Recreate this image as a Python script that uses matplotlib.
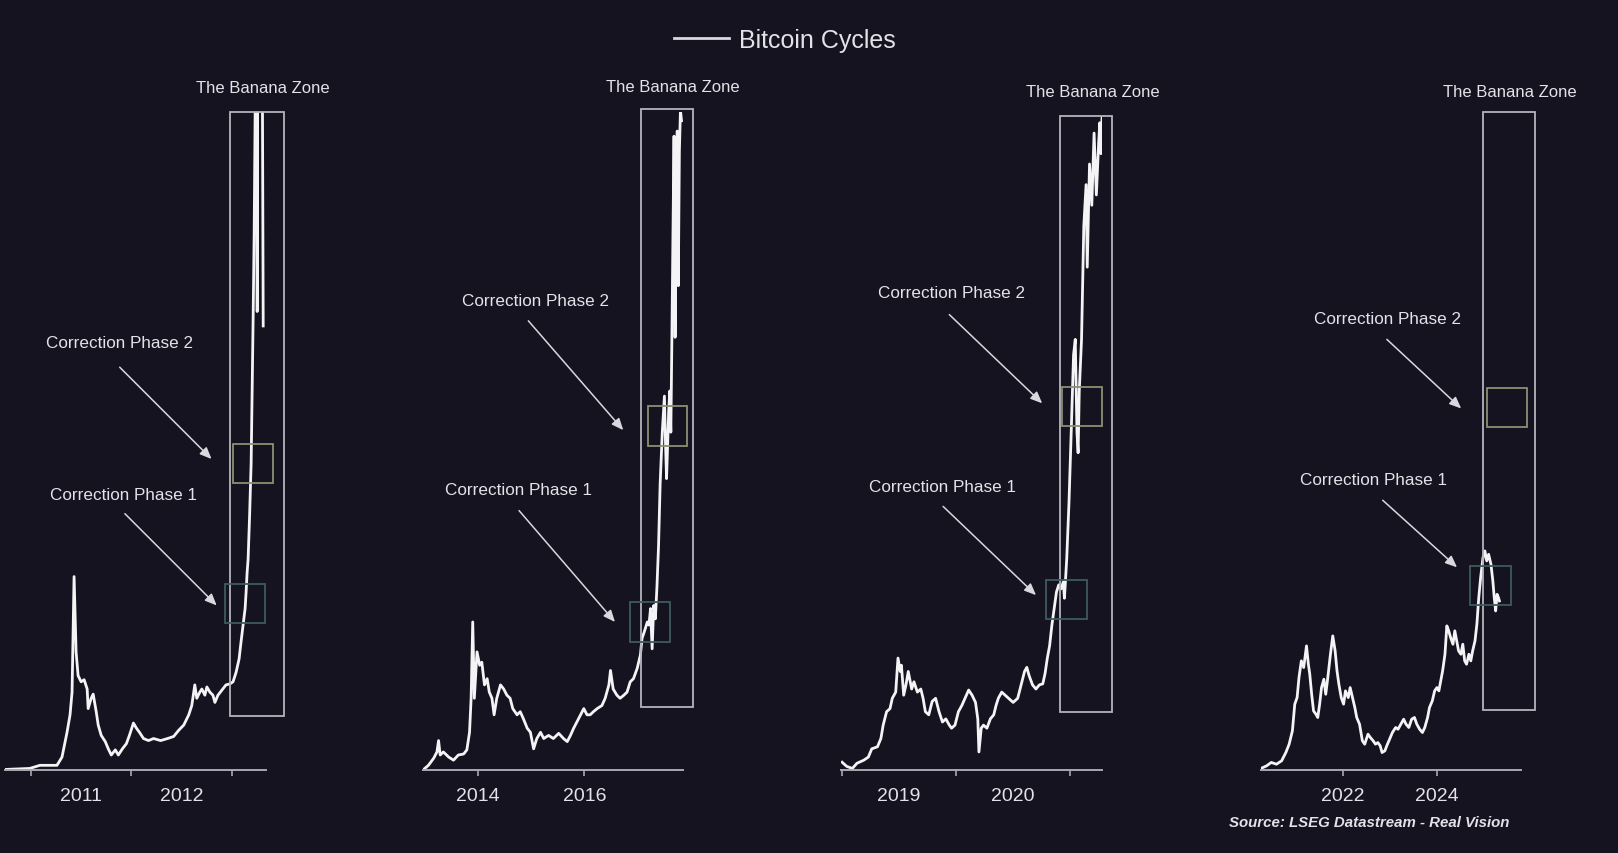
import matplotlib
matplotlib.use("Agg")
import matplotlib.pyplot as plt
from matplotlib.patches import Rectangle, FancyArrowPatch
from matplotlib.ticker import FixedLocator, NullFormatter, FixedFormatter

plt.rcParams["font.family"] = ["Liberation Sans", "DejaVu Sans"]

# ---- data: decimal year vs. price index (chart height units) ----
p1_years = [2010.745, 2010.99, 2011.09, 2011.26, 2011.31, 2011.36, 2011.39, 2011.41, 2011.43,
            2011.45, 2011.47, 2011.50, 2011.53, 2011.56, 2011.57, 2011.60, 2011.62, 2011.65,
            2011.67, 2011.70, 2011.74, 2011.77, 2011.80, 2011.84, 2011.87, 2011.91, 2011.95,
            2011.98, 2012.02, 2012.05, 2012.08, 2012.12, 2012.17, 2012.22, 2012.29, 2012.36,
            2012.42, 2012.47, 2012.52, 2012.57, 2012.60, 2012.63, 2012.65, 2012.68, 2012.70,
            2012.73, 2012.75, 2012.78, 2012.81, 2012.83, 2012.86, 2012.90, 2012.94, 2012.98,
            2013.01, 2013.04, 2013.07, 2013.09, 2013.11, 2013.13, 2013.14, 2013.15, 2013.16,
            2013.175, 2013.19, 2013.20, 2013.21, 2013.22, 2013.23, 2013.235, 2013.245, 2013.25,
            2013.255, 2013.30, 2013.31]
p1_index = [1, 2, 5, 5, 13, 37, 54, 76, 188,
            115, 92, 86, 88, 79, 60, 70, 74, 57,
            44, 34, 28, 21, 15, 20, 15, 21, 26,
            34, 46, 41, 37, 31, 29, 31, 29, 31,
            33, 39, 44, 54, 63, 83, 70, 76, 79,
            73, 81, 76, 73, 66, 73, 78, 83, 84,
            86, 95, 108, 125, 141, 157, 173, 192, 205,
            248, 298, 368, 440, 520, 640, 720, 720, 445,
            720, 720, 431]

p2_years = [2012.99, 2013.08, 2013.18, 2013.24, 2013.27, 2013.30, 2013.36, 2013.46, 2013.55,
            2013.64, 2013.74, 2013.80, 2013.85, 2013.88, 2013.91, 2013.94, 2013.99, 2014.04,
            2014.08, 2014.13, 2014.18, 2014.22, 2014.27, 2014.31, 2014.36, 2014.43, 2014.49,
            2014.55, 2014.61, 2014.66, 2014.74, 2014.80, 2014.86, 2014.93, 2014.99, 2015.05,
            2015.11, 2015.18, 2015.24, 2015.33, 2015.42, 2015.52, 2015.61, 2015.68, 2015.74,
            2015.80, 2015.86, 2015.93, 2015.99, 2016.05, 2016.11, 2016.17, 2016.24, 2016.33,
            2016.39, 2016.46, 2016.49, 2016.54, 2016.61, 2016.67, 2016.74, 2016.80, 2016.86,
            2016.92, 2016.99, 2017.05, 2017.08, 2017.12, 2017.18, 2017.21, 2017.24, 2017.27,
            2017.30, 2017.33, 2017.36, 2017.39, 2017.42, 2017.46, 2017.50, 2017.52, 2017.54,
            2017.58, 2017.60, 2017.62, 2017.64, 2017.66, 2017.68, 2017.70, 2017.72, 2017.74,
            2017.76, 2017.78, 2017.80, 2017.82]
p2_index = [1, 5, 12, 18, 29, 15, 18, 13, 10,
            15, 16, 20, 37, 70, 144, 70, 115, 102,
            105, 83, 89, 76, 70, 54, 70, 83, 79,
            73, 70, 60, 54, 57, 50, 41, 37, 21,
            31, 37, 31, 34, 31, 36, 31, 28, 34,
            41, 47, 54, 60, 54, 54, 57, 60, 63,
            70, 83, 97, 79, 73, 70, 73, 76, 86,
            89, 99, 112, 128, 134, 144, 141, 157, 118,
            160, 147, 178, 218, 278, 328, 363, 318, 283,
            348, 368, 328, 420, 520, 615, 420, 560, 620,
            470, 600, 640, 630]

p3_years = [2019.00, 2019.04, 2019.09, 2019.13, 2019.19, 2019.23, 2019.26, 2019.31, 2019.34,
            2019.36, 2019.39, 2019.42, 2019.44, 2019.47, 2019.49, 2019.51, 2019.52, 2019.54,
            2019.56, 2019.58, 2019.61, 2019.63, 2019.66, 2019.69, 2019.71, 2019.73, 2019.76,
            2019.79, 2019.82, 2019.85, 2019.88, 2019.91, 2019.94, 2019.96, 2019.99, 2020.02,
            2020.05, 2020.09, 2020.11, 2020.14, 2020.17, 2020.19, 2020.20, 2020.22, 2020.24,
            2020.27, 2020.30, 2020.33, 2020.35, 2020.37, 2020.40, 2020.43, 2020.46, 2020.50,
            2020.54, 2020.57, 2020.60, 2020.62, 2020.64, 2020.67, 2020.70, 2020.73, 2020.76,
            2020.78, 2020.80, 2020.82, 2020.84, 2020.86, 2020.88, 2020.90, 2020.92, 2020.94,
            2020.95, 2020.96, 2020.97, 2020.99, 2021.01, 2021.03, 2021.045, 2021.06, 2021.07,
            2021.08, 2021.10, 2021.12, 2021.14, 2021.15, 2021.17, 2021.19, 2021.21, 2021.23,
            2021.25, 2021.26, 2021.27, 2021.28]
p3_index = [8, 4, 2, 7, 10, 13, 21, 23, 31,
            44, 57, 60, 70, 76, 109, 96, 102, 73,
            83, 96, 79, 86, 76, 79, 70, 57, 54,
            67, 70, 57, 47, 50, 44, 41, 44, 57,
            63, 73, 78, 73, 66, 50, 18, 41, 44,
            41, 50, 54, 63, 70, 76, 73, 70, 66,
            70, 83, 96, 100, 92, 83, 79, 83, 84,
            94, 109, 121, 141, 157, 173, 180, 176, 183,
            167, 186, 205, 260, 330, 403, 418, 328, 308,
            368, 418, 528, 568, 488, 588, 548, 618, 558,
            608, 628, 598, 633]

p4_years = [2020.27, 2020.38, 2020.48, 2020.59, 2020.70, 2020.79, 2020.86, 2020.93, 2020.98,
            2021.03, 2021.07, 2021.12, 2021.17, 2021.23, 2021.27, 2021.30, 2021.34, 2021.38,
            2021.43, 2021.47, 2021.51, 2021.55, 2021.60, 2021.64, 2021.68, 2021.74, 2021.79,
            2021.84, 2021.88, 2021.92, 2021.97, 2022.02, 2022.06, 2022.12, 2022.16, 2022.21,
            2022.26, 2022.30, 2022.36, 2022.42, 2022.47, 2022.54, 2022.59, 2022.65, 2022.70,
            2022.75, 2022.80, 2022.84, 2022.90, 2022.94, 2023.00, 2023.06, 2023.13, 2023.18,
            2023.24, 2023.30, 2023.35, 2023.41, 2023.47, 2023.53, 2023.58, 2023.64, 2023.70,
            2023.75, 2023.81, 2023.85, 2023.91, 2023.96, 2024.01, 2024.05, 2024.09, 2024.13,
            2024.18, 2024.22, 2024.26, 2024.30, 2024.35, 2024.39, 2024.43, 2024.47, 2024.52,
            2024.56, 2024.60, 2024.64, 2024.69, 2024.73, 2024.77, 2024.82, 2024.86, 2024.90,
            2024.94, 2024.99, 2025.03, 2025.07, 2025.11, 2025.16, 2025.20, 2025.23, 2025.26,
            2025.29, 2025.32, 2025.34]
p4_index = [2.2, 4.5, 7.8, 6.1, 9.4, 17.4, 25.5, 38.5, 64.3,
            70.7, 90.1, 106.3, 99.8, 120.8, 103.0, 93.3, 73.9, 57.8,
            54.6, 51.4, 64.3, 80.4, 88.5, 73.9, 88.5, 112.7, 130.5,
            116.0, 96.6, 83.6, 70.7, 64.3, 77.2, 70.7, 80.4, 70.7,
            61.0, 51.4, 44.9, 28.8, 25.5, 35.2, 32.0, 28.8, 25.5,
            27.1, 23.9, 17.4, 19.1, 23.9, 30.3, 36.8, 41.7, 40.0,
            44.9, 49.7, 44.9, 41.7, 49.7, 51.4, 44.9, 40.0, 36.8,
            41.7, 51.4, 61.0, 67.5, 77.2, 80.4, 77.2, 86.9, 96.6,
            112.7, 140.2, 135.4, 128.9, 122.4, 135.4, 125.7, 116.0, 112.7,
            122.4, 106.3, 103.0, 112.7, 106.3, 116.0, 125.7, 141.8, 167.6,
            187.0, 206.4, 212.9, 203.2, 209.6, 199.9, 183.8, 167.6, 154.7,
            170.8, 167.6, 164.4]

p1_ticks, p1_labels = [2011, 2012, 2013], ["2011", "2012"]
p2_ticks, p2_labels = [2014, 2016], ["2014", "2016"]
p3_ticks, p3_labels = [2019, 2020, 2021], ["2019", "2020"]
p4_ticks, p4_labels = [2022, 2024], ["2022", "2024"]

BG = "#15131f"
FG = "#e2e2e8"
W, H = 1568.0, 828.0  # layout units


def frac(x0, x1, ytop, ybot):
    return [x0 / W, 1 - ybot / H, (x1 - x0) / W, (ybot - ytop) / H]


fig = plt.figure(figsize=(16.18, 8.54), dpi=100, facecolor=BG)

panels = [
    # axis x-extent (layout px), xlim, data, ticks, labels, labels sit between ticks
    (5, 258, (2010.745, 2013.34), p1_years, p1_index, p1_ticks, p1_labels, True),
    (410, 662, (2012.98, 2017.85), p2_years, p2_index, p2_ticks, p2_labels, False),
    (815, 1068, (2018.99, 2021.28), p3_years, p3_index, p3_ticks, p3_labels, True),
    (1222, 1474, (2020.26, 2025.80), p4_years, p4_index, p4_ticks, p4_labels, False),
]

line = None
for x0, x1, xlim, yrs, idx, ticks, labels, between in panels:
    ax = fig.add_axes(frac(x0, x1, 110, 748))
    ax.set_facecolor("none")
    line, = ax.plot(yrs, idx, color="#f4f4f6", lw=2.0, solid_joinstyle="round")
    ax.set_xlim(*xlim)
    ax.set_ylim(0, 638)
    for s in ("top", "left", "right"):
        ax.spines[s].set_visible(False)
    ax.spines["bottom"].set_color("#a8a8b0")
    ax.spines["bottom"].set_linewidth(1.4)
    ax.set_yticks([])
    ax.xaxis.set_major_locator(FixedLocator(ticks))
    ax.tick_params(axis="x", which="major", length=4, width=1.2, color="#a8a8b0",
                   labelsize=14, labelcolor=FG, pad=8)
    if between:
        ax.xaxis.set_major_formatter(NullFormatter())
        ax.xaxis.set_minor_locator(FixedLocator([t + 0.5 for t in ticks[:-1]]))
        ax.xaxis.set_minor_formatter(FixedFormatter(labels))
        ax.tick_params(axis="x", which="minor", length=0, labelsize=14,
                       labelcolor=FG, pad=12)
    else:
        ax.xaxis.set_major_formatter(FixedFormatter(labels))

# overlay for the annotations, in layout px
ov = fig.add_axes([0, 0, 1, 1])
ov.set_xlim(0, W)
ov.set_ylim(H, 0)
ov.axis("off")
ov.set_facecolor("none")

zones = [  # banana box, CP2 box, CP1 box, banana text, CP2 text, CP2 arrow, CP1 text, CP1 arrow
    ((223, 110, 275, 695), (226, 431, 265, 469), (218, 567, 257, 605), (255, 86),
     (116, 333), ((116, 357), (205, 446)), (120, 480), ((121, 499), (210, 588))),
    ((621, 107, 672, 686), (628, 395, 666, 433), (611, 585, 649, 623), (652, 85),
     (519, 292), ((512, 312), (604, 418)), (502, 476), ((503, 496), (596, 604))),
    ((1027, 113, 1078, 691), (1029, 376, 1068, 414), (1014, 563, 1053, 601), (1059, 90),
     (922, 285), ((920, 306), (1010, 392)), (913, 473), ((914, 492), (1004, 578))),
    ((1437, 110, 1488, 689), (1441, 377, 1480, 415), (1425, 550, 1464, 588), (1463, 90),
     (1345, 310), ((1344, 330), (1416, 397)), (1331, 466), ((1340, 486), (1412, 551))),
]

for bz, c2, c1, tbz, t2, a2, t1, a1 in zones:
    ov.add_patch(Rectangle((bz[0], bz[1]), bz[2] - bz[0], bz[3] - bz[1], fill=False,
                           ec="#b4b4bc", lw=1.3))
    ov.add_patch(Rectangle((c2[0], c2[1]), c2[2] - c2[0], c2[3] - c2[1], fill=False,
                           ec="#8c8e72", lw=1.3))
    ov.add_patch(Rectangle((c1[0], c1[1]), c1[2] - c1[0], c1[3] - c1[1], fill=False,
                           ec="#3e5a60", lw=1.3))
    ov.text(*tbz, "The Banana Zone", color=FG, fontsize=12, ha="center", va="center")
    ov.text(*t2, "Correction Phase 2", color=FG, fontsize=12.3, ha="center", va="center")
    ov.text(*t1, "Correction Phase 1", color=FG, fontsize=12.3, ha="center", va="center")
    for a in (a2, a1):
        ov.add_patch(FancyArrowPatch(a[0], a[1], arrowstyle="-|>,head_length=7,head_width=3",
                                     color="#d8d8de", lw=1.1, shrinkA=0, shrinkB=0))

ov.text(1327, 798, "Source: LSEG Datastream - Real Vision", color=FG, fontsize=10.8,
        style="italic", weight="bold", ha="center", va="center")

leg = fig.legend([line], ["Bitcoin Cycles"], loc="center", bbox_to_anchor=(0.485, 0.952),
                 frameon=False, fontsize=18, handlelength=2.2, handletextpad=0.4,
                 labelcolor=FG)
leg.get_lines()[0].set_color("#d8d8de")
leg.get_lines()[0].set_linewidth(2)

fig.savefig("out.png", dpi=100, facecolor=BG)
